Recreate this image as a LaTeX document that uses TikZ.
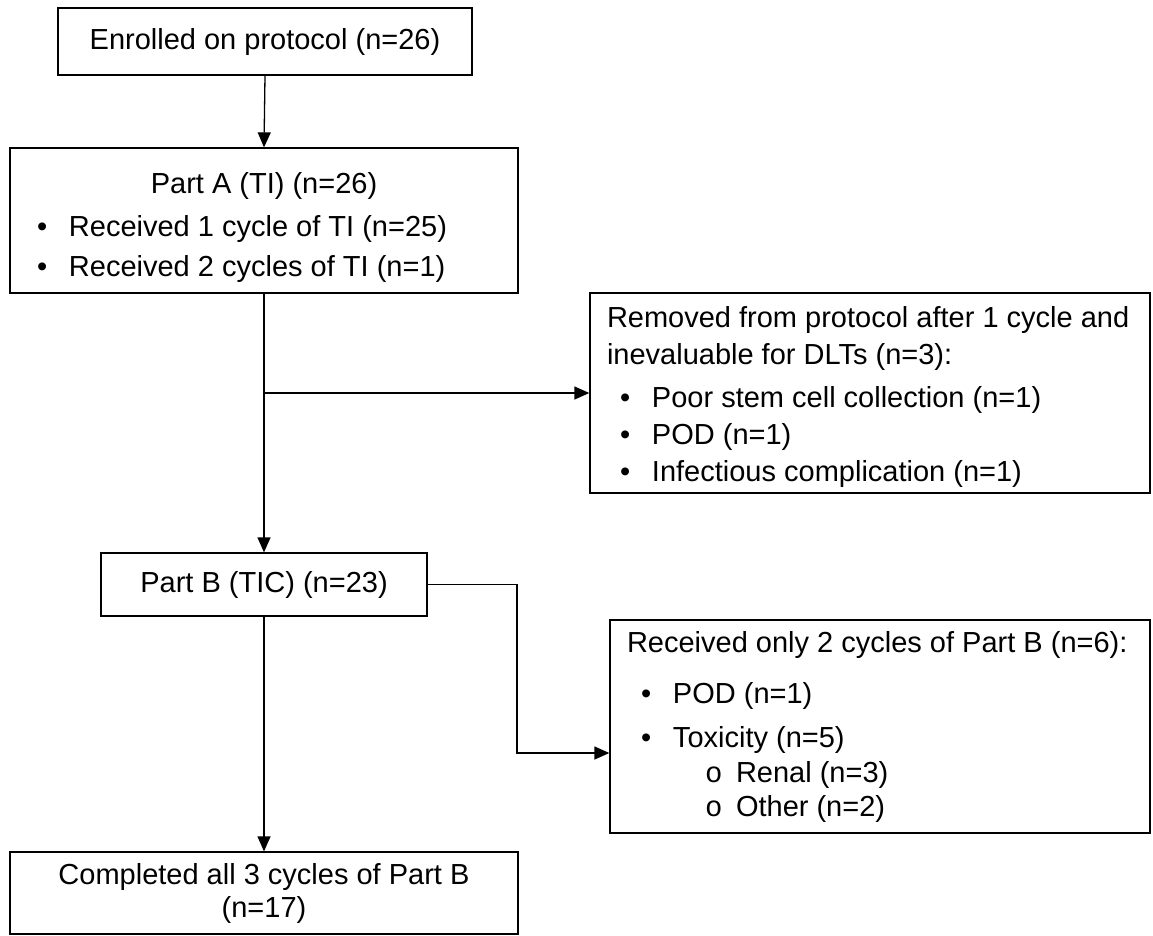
\documentclass[tikz,border=0pt]{standalone}
\usepackage{fontspec}
\setmainfont{Liberation Sans}
\newfontfamily\circfont{Liberation Mono}
\usetikzlibrary{arrows.meta}
\newcommand{\bul}[1][13pt]{\hspace*{#1}\makebox[32pt][l]{\textbullet}}
\newcommand{\subbul}{\hspace*{78pt}\makebox[31pt][l]{\circfont o}}
\newcommand{\topgap}[1]{\rule{0pt}{\dimexpr\fontcharht\font`(+#1\relax}}
\begin{document}
\begin{tikzpicture}[x=1pt,y=-1pt,>={Triangle[length=15pt,width=13pt]},line width=1.3pt,
    box/.style={draw,rectangle,font=\fontsize{29}{37}\selectfont}]
        \useasboundingbox (0,0) rectangle (1153,935);
        \node[box,minimum width=414pt,minimum height=67pt] (enrolled) at (265,41.5) {Enrolled on protocol (n=26)};
        \node[box,text width=454pt,inner xsep=27pt,minimum height=145pt,align=flush left] (partA) at (264,220.5)
            {\topgap{16pt}\makebox[454pt]{Part A (TI) (n=26)}\\[6pt]
             \bul[0pt]Received 1 cycle of TI (n=25)\\[3pt]
             \bul[0pt]Received 2 cycles of TI (n=1)};
        \node[box,text width=526pt,inner xsep=17pt,minimum height=200pt,align=flush left] (removed) at (870,393)
            {\topgap{10pt}Removed from protocol after 1 cycle and\\
             inevaluable for DLTs (n=3):\\[6pt]
             \bul Poor stem cell collection (n=1)\\
             \bul POD (n=1)\\
             \bul Infectious complication (n=1)};
        \node[box,minimum width=326pt,minimum height=63pt] (partB) at (264,584.5) {Part B (TIC) (n=23)};
        \node[box,text width=506pt,inner xsep=17pt,minimum height=213pt,align=flush left] (received) at (880,726.5)
            {Received only 2 cycles of Part B (n=6):\\[14pt]
             \bul[14pt]POD (n=1)\\[7pt]
             \bul[14pt]Toxicity (n=5)\\[-2pt]
             \subbul Renal (n=3)\\[-3pt]
             \subbul Other (n=2)};
        \node[box,text width=474pt,minimum width=508pt,minimum height=82pt,align=flush center] (completed) at (264,893)
            {Completed all 3 cycles of Part B\\[-4pt](n=17)};
        \coordinate (bend) at (517,753);
        \draw[->] (enrolled.south) -- (partA.north);
        \draw[->] (partA.south) -- (partB.north);
        \draw[->] (partA.south |- removed.west) -- (removed.west);
        \draw[->] (partB.east) -| (bend) -- (bend -| received.west);
        \draw[->] (partB.south) -- (completed.north);
\end{tikzpicture}
\end{document}
